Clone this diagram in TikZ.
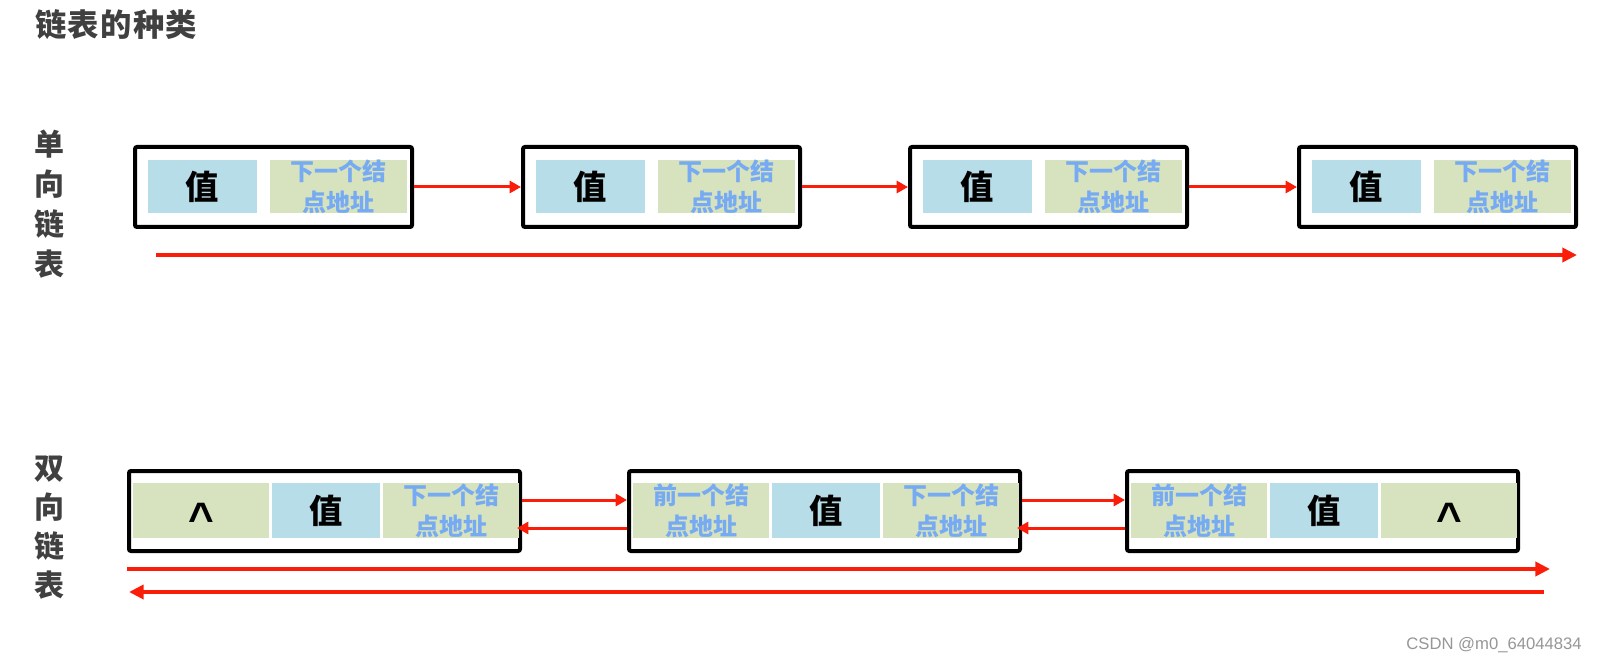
\documentclass[tikz,border=0pt]{standalone}
\usepackage{fontspec}
\setmainfont{Liberation Sans}
\newfontfamily\cjk{Noto Sans CJK SC}
\newfontfamily\lib{Liberation Sans}
\usetikzlibrary{arrows.meta}
\definecolor{cellblue}{RGB}{183,221,232}
\definecolor{cellgreen}{RGB}{215,227,190}
\definecolor{addrblue}{RGB}{118,170,242}
\definecolor{linkred}{RGB}{250,30,10}
\definecolor{titlegray}{RGB}{64,64,64}
\definecolor{markgray}{RGB}{150,150,150}
\begin{document}
\begin{tikzpicture}[x=0.75pt,y=-0.75pt,
  sbox/.style={draw=black, line width=3pt, rounded corners=1.5pt, inner sep=0pt, minimum width=207.75pt, minimum height=60pt},
  dbox/.style={draw=black, line width=3pt, rounded corners=1.5pt, inner sep=0pt, minimum width=293.25pt, minimum height=60pt},
  valcell/.style={fill=cellblue, inner sep=0pt, font=\cjk\bfseries\fontsize{25}{28}\selectfont, text=black},
  addrcell/.style={fill=cellgreen, inner sep=0pt, align=center, font=\cjk\bfseries\fontsize{18}{23}\selectfont, text=addrblue},
  nullcell/.style={fill=cellgreen, inner sep=0pt, font=\lib\bfseries\fontsize{33}{35}\selectfont, text=black, text height=35pt, text depth=0pt},
  slink/.style={draw=linkred, line width=2.25pt, -{Triangle[length=8.5pt,width=9pt]}},
  longlink/.style={draw=linkred, line width=3pt, -{Triangle[length=11pt,width=10.5pt]}},
  sidelabel/.style={inner sep=0pt, align=center, text=titlegray, font=\cjk\bfseries\fontsize{22.5}{30}\selectfont}
]
\useasboundingbox (0,0) rectangle (1597,663);

% title
\node[anchor=west, inner sep=0pt, text=titlegray, font=\cjk\bfseries\fontsize{23.5}{26}\selectfont] (title) at (35,24.5) {链\hspace{1pt}表\hspace{1pt}的\hspace{1pt}种\hspace{1pt}类};

% side labels
\node[sidelabel] (slabel) at (50,204.5) {单\\向\\链\\表};
\node[sidelabel, font=\cjk\bfseries\fontsize{22.5}{29.25}\selectfont] (dlabel) at (49,527.5) {双\\向\\链\\表};

% singly linked list
\foreach \n/\cx in {1/273.5, 2/661.5, 3/1048.5, 4/1437.5}{
  \node[sbox] (s\n) at (\cx,187) {};
  \node[valcell, minimum width=81.75pt, minimum height=39.75pt] (s\n v) at (\cx-71,186.5) {值};
  \node[addrcell, minimum width=102.75pt, minimum height=39.75pt] (s\n n) at (\cx+65,186.5) {下一个结\\点地址};
}
\draw[slink] (s1.east) -- (s2.west);
\draw[slink] (s2.east) -- (s3.west);
\draw[slink] (s3.east) -- (s4.west);
\coordinate (sa) at (156,255);
\coordinate (sb) at (1577,255);
\draw[longlink] (sa) -- (sb);

% doubly linked list
\node[dbox] (d1) at (324.5,511) {};
\node[dbox] (d2) at (824.5,511) {};
\node[dbox] (d3) at (1322.5,511) {};

\node[nullcell, minimum width=102pt, minimum height=41.25pt] (d1p) at (201,510.5) {\textasciicircum};
\node[valcell, minimum width=81pt, minimum height=41.25pt] (d1v) at (326,510.5) {值};
\node[addrcell, minimum width=102pt, minimum height=41.25pt] (d1n) at (451,510.5) {下一个结\\点地址};

\node[addrcell, minimum width=102pt, minimum height=41.25pt] (d2p) at (701,510.5) {前一个结\\点地址};
\node[valcell, minimum width=81pt, minimum height=41.25pt] (d2v) at (826,510.5) {值};
\node[addrcell, minimum width=102pt, minimum height=41.25pt] (d2n) at (951,510.5) {下一个结\\点地址};

\node[addrcell, minimum width=102pt, minimum height=41.25pt] (d3p) at (1199,510.5) {前一个结\\点地址};
\node[valcell, minimum width=81pt, minimum height=41.25pt] (d3v) at (1324,510.5) {值};
\node[nullcell, minimum width=102pt, minimum height=41.25pt] (d3n) at (1449,510.5) {\textasciicircum};

\draw[slink] ([yshift=8.25pt]d1.east) -- ([yshift=8.25pt]d2.west);
\draw[slink] ([yshift=-12.75pt]d2.west) -- ([yshift=-12.75pt,xshift=-3.75pt]d1.east);
\draw[slink] ([yshift=8.25pt]d2.east) -- ([yshift=8.25pt]d3.west);
\draw[slink] ([yshift=-12.75pt]d3.west) -- ([yshift=-12.75pt,xshift=-3.75pt]d2.east);

\coordinate (da) at (127,569);
\coordinate (db) at (1550,569);
\coordinate (dc) at (1544,592);
\coordinate (dd) at (129,592);
\draw[longlink] (da) -- (db);
\draw[longlink] (dc) -- (dd);

% watermark
\node[anchor=east, inner sep=0pt, text=markgray, font=\lib\fontsize{12.5}{14}\selectfont] (mark) at (1582,645) {CSDN @m0\_64044834};
\end{tikzpicture}
\end{document}
